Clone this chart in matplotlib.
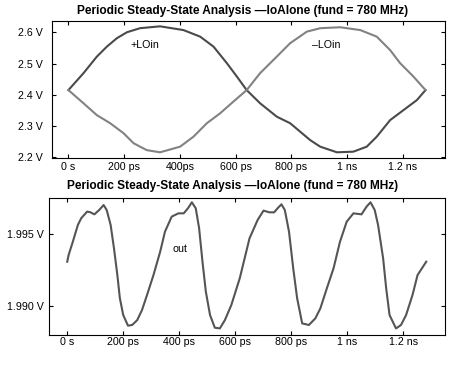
import matplotlib
matplotlib.use("Agg")
import matplotlib.pyplot as plt
from matplotlib.ticker import FixedLocator, FixedFormatter

plt.rcParams['font.family'] = ['Liberation Sans', 'DejaVu Sans']

TITLE = "Periodic Steady-State Analysis \u2014loAlone (fund = 780 MHz)"

# ---- top panel data (time in ps, volts) ----
t_plus = [0, 54, 102, 138, 174, 210, 257, 329, 413, 473, 521, 569, 605, 640, 688, 748,
          796, 868, 904, 964, 1023, 1071, 1107, 1155, 1203, 1251, 1282]
v_plus = [2.415, 2.469, 2.522, 2.554, 2.581, 2.600, 2.613, 2.619, 2.607, 2.586, 2.554,
          2.501, 2.458, 2.415, 2.373, 2.330, 2.309, 2.255, 2.234, 2.216, 2.218, 2.234,
          2.266, 2.319, 2.351, 2.383, 2.415]
t_minus = [0, 54, 102, 150, 198, 234, 281, 329, 401, 449, 497, 545, 592, 640, 688, 748,
           796, 856, 904, 976, 1048, 1107, 1155, 1191, 1239, 1282]
v_minus = [2.415, 2.373, 2.335, 2.309, 2.277, 2.245, 2.223, 2.216, 2.234, 2.266, 2.309,
           2.341, 2.378, 2.415, 2.469, 2.522, 2.565, 2.602, 2.613, 2.616, 2.607, 2.586,
           2.543, 2.501, 2.458, 2.415]

# ---- bottom panel data ----
t_out = [0, 5, 20, 38, 50, 71, 82, 97, 114, 130, 141, 155, 167, 179, 188, 200, 217, 232,
         250, 267, 285, 308, 332, 349, 373, 397, 416, 431, 445, 459, 471, 483, 495, 510,
         527, 545, 563, 586, 616, 651, 680, 701, 722, 739, 751, 765, 777, 792, 807, 821,
         839, 863, 886, 904, 927, 951, 974, 998, 1022, 1051, 1069, 1083, 1098, 1110, 1128,
         1139, 1151, 1174, 1192, 1210, 1233, 1251, 1282]
v_out = [1.99309, 1.99356, 1.99448, 1.99565, 1.99612, 1.99658, 1.99654, 1.99639, 1.99669,
         1.99704, 1.99669, 1.99565, 1.99402, 1.99216, 1.99054, 1.98937, 1.98863, 1.98868,
         1.98902, 1.98972, 1.99077, 1.99216, 1.99379, 1.99518, 1.99623, 1.99646, 1.99646,
         1.99681, 1.99723, 1.99681, 1.99542, 1.99309, 1.99100, 1.98937, 1.98849, 1.98844,
         1.98902, 1.99007, 1.99193, 1.99472, 1.99600, 1.99665, 1.99653, 1.99653, 1.99681,
         1.99709, 1.99669, 1.99518, 1.99263, 1.99054, 1.98879, 1.98868, 1.98914, 1.98984,
         1.99123, 1.99263, 1.99448, 1.99588, 1.99646, 1.99639, 1.99693, 1.99723, 1.99669,
         1.99565, 1.99333, 1.99123, 1.98937, 1.98844, 1.98868, 1.98937, 1.99077, 1.99216,
         1.99309]

xticks = [0, 200, 400, 600, 800, 1000, 1200]
xlabels_top = ['0 s', '200 ps', '400ps', '600 ps', '800 ps', '1 ns', '1.2 ns']
xlabels_bot = ['0 s', '200 ps', '400 ps', '600 ps', '800 ps', '1 ns', '1.2 ns']
yticks_top = [2.2, 2.3, 2.4, 2.5, 2.6]
ylabels_top = ['2.2 V', '2.3 V', '2.4 V', '2.5 V', '2.6 V']
yticks_bot = [1.990, 1.995]
ylabels_bot = ['1.990 V', '1.995 V']

W, H = 472, 365
fig = plt.figure(figsize=(W / 100, H / 100), dpi=100)
fig.patch.set_facecolor('white')

def px_axes(l, r, t, b):
    return fig.add_axes([l / W, 1 - b / H, (r - l) / W, (b - t) / H])

def style(ax, yt, yl, xl, ypad, xpad):
    ax.xaxis.set_major_locator(FixedLocator(xticks))
    ax.xaxis.set_major_formatter(FixedFormatter(xl))
    ax.yaxis.set_major_locator(FixedLocator(yt))
    ax.yaxis.set_major_formatter(FixedFormatter(yl))
    ax.tick_params(direction='in', length=3.2, width=0.8, labelsize=7.7,
                   left=True, right=True, top=True, bottom=True, colors='black')
    ax.tick_params(axis='y', pad=ypad)
    ax.tick_params(axis='x', pad=xpad)
    for s in ax.spines.values():
        s.set_linewidth(0.8)
        s.set_color('black')

def ptext(x, y, s, **kw):
    fig.text(x / W, 1 - y / H, s, **kw)

ax1 = px_axes(51.7, 445, 20.7, 158.3)
ax1.plot(t_plus, v_plus, color='#4a4a4a', lw=1.5)
ax1.plot(t_minus, v_minus, color='#828282', lw=1.5)
ax1.set_xlim(-60, 1352)
ax1.set_ylim(2.1968, 2.637)
style(ax1, yticks_top, ylabels_top, xlabels_top, ypad=6.3, xpad=2.8)

ax2 = px_axes(49.3, 445, 197.7, 335.3)
ax2.plot(t_out, v_out, color='#555555', lw=1.5)
ax2.set_xlim(-64, 1349)
ax2.set_ylim(1.98796, 1.99755)
style(ax2, yticks_bot, ylabels_bot, xlabels_bot, ypad=4.2, xpad=1.4)

ptext(242.5, 14, TITLE, fontsize=8.6, fontweight='bold', ha='center', va='baseline')
ptext(233, 189, TITLE, fontsize=8.6, fontweight='bold', ha='center', va='baseline')
ptext(145, 47.7, '+LOin', fontsize=7.7, ha='center', va='baseline')
ptext(326, 47.7, '\u2013LOin', fontsize=7.7, ha='center', va='baseline')
ptext(180, 251.7, 'out', fontsize=7.7, ha='center', va='baseline')

fig.savefig('out.png', dpi=100, facecolor='white')
